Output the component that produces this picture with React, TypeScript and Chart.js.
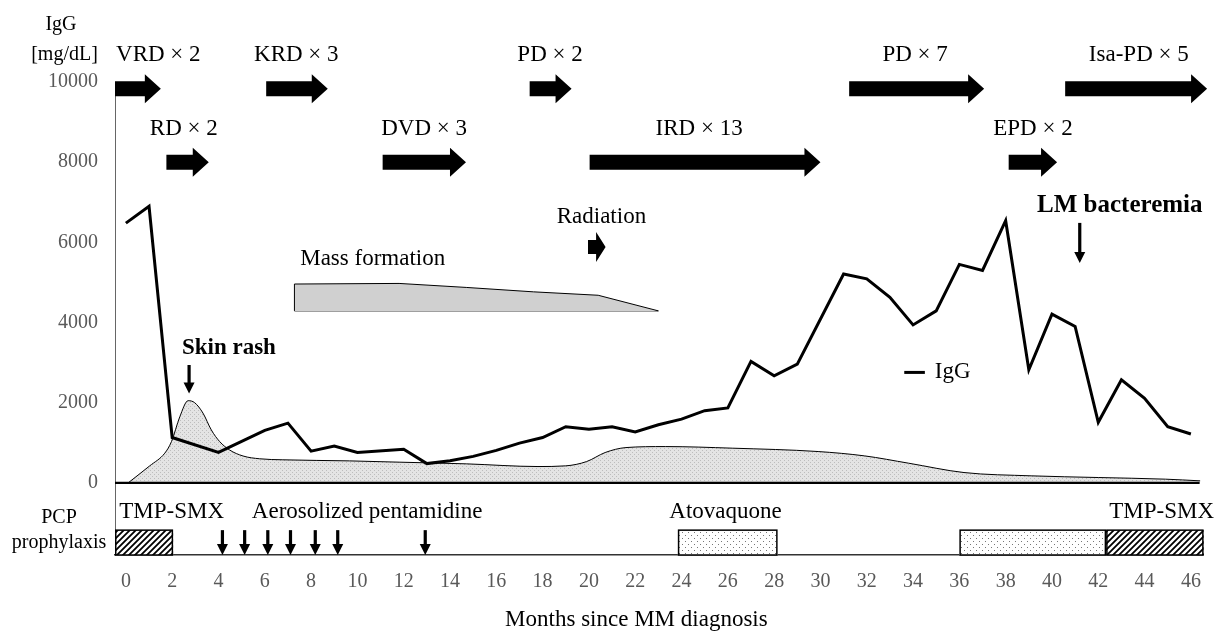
import React, { useEffect, useRef } from 'react';
import { Chart, registerables } from 'chart.js';

Chart.register(...registerables);

const FONT = "'Liberation Serif', 'Times New Roman', serif";

// ---- axis ranges / ticks ----
const xMin = -0.47;
const xMax = 46.55;
const yMin = -1800;
const yMax = 10000;
const xTicks = [0, 2, 4, 6, 8, 10, 12, 14, 16, 18, 20, 22, 24, 26, 28, 30, 32, 34, 36, 38, 40, 42, 44, 46];
const yTicks = [0, 2000, 4000, 6000, 8000, 10000];

// ---- IgG (mg/dL) ----
const igGMonths = [0, 1, 2, 4, 6, 7, 8, 9, 10, 12, 13, 14, 15, 16, 17, 18, 19, 20, 21, 22, 23, 24, 25, 26, 27, 28, 29, 31, 32, 33, 34, 35, 36, 37, 38, 39, 40, 41, 42, 43, 44, 45, 46];
const igGValues = [6480, 6900, 1130, 760, 1310, 1490, 790, 920, 760, 840, 480, 550, 660, 810, 990, 1130, 1400, 1340, 1400, 1270, 1450, 1590, 1800, 1870, 3030, 2670, 2960, 5210, 5090, 4630, 3940, 4290, 5450, 5300, 6540, 2820, 4210, 3900, 1510, 2570, 2110, 1400, 1220];

// ---- shaded curve ----
const shadeMonths = [0.1, 1.03, 1.68, 1.97, 2.33, 2.69, 2.97, 3.33, 3.69, 4.05, 4.48, 5.06, 5.78, 6.78, 9.66, 11.8, 14.7, 17.8, 19.0, 19.9, 20.7, 21.6, 23.3, 26.2, 29.9, 31.9, 33.8, 36.2, 39.1, 42.0, 44.9, 46.4];
const shadeValues = [0, 424, 740, 1030, 1650, 2050, 2000, 1740, 1320, 1030, 820, 670, 600, 575, 548, 516, 474, 407, 424, 531, 756, 880, 905, 865, 781, 673, 491, 257, 175, 133, 92, 50];

// ---- mass formation band ----
const massMonths = [7.28, 7.28, 11.8, 14.7, 17.6, 20.4, 23.0];
const massValues = [4290, 4960, 4975, 4875, 4765, 4680, 4290];
const massBase = 4290;

// ---- treatment regimens ----
const regimenLabels = ['VRD × 2', 'RD × 2', 'KRD × 3', 'DVD × 3', 'PD × 2', 'IRD × 13', 'PD × 7', 'EPD × 2', 'Isa-PD × 5'];
const regimenStart = [-0.47, 1.75, 6.06, 11.09, 17.44, 20.03, 31.24, 38.13, 40.57];
const regimenEnd = [1.51, 3.58, 8.72, 14.69, 19.25, 30.0, 37.07, 40.22, 46.7];
const regimenRow = [9830, 8000, 9830, 8000, 9830, 8000, 9830, 8000, 9830];
const regimenLabelAt = [1.4, 2.5, 7.36, 12.88, 18.32, 24.76, 34.09, 39.18, 43.75];

// ---- events ----
const eventLabels = ['Skin rash', 'LM bacteremia'];
const eventMonths = [2.73, 41.2];
const eventArrowTop = [2940, 6485];
const eventArrowTip = [2227, 5487];
const eventLabelAt = [4.45, 42.93];
const eventLabelValue = [3353, 6926];
const eventFontSize = [23, 25];

// ---- radiation / mass labels ----
const radiationStart = 19.96;
const radiationEnd = 20.72;
const radiationValue = 5886;
const radiationLabelAt = 20.54;
const radiationLabelValue = 6634;
const massLabelAt = 10.66;
const massLabelValue = 5597;

// ---- legend ----
const legendStart = 33.62;
const legendEnd = 34.51;
const legendTextAt = 34.94;
const legendValue = 2755;

// ---- PCP prophylaxis ----
const pcpDrugs = ['TMP-SMX', 'Atovaquone', 'Atovaquone', 'TMP-SMX'];
const pcpStart = [-0.47, 23.84, 36.0, 42.34];
const pcpEnd = [2.04, 28.15, 42.34, 46.55];
const pcpBoxTop = -1180;
const pentamidineMonths = [4.17, 5.13, 6.13, 7.11, 8.18, 9.15, 12.93];
const pcpTextLabels = ['TMP-SMX', 'Aerosolized pentamidine', 'Atovaquone', 'TMP-SMX'];
const pcpTextAt = [1.98, 10.42, 25.9, 44.74];
const pcpTextValue = -720;
const xTitleAt = 22.05;

function tile(w: number, h: number, draw: (g: CanvasRenderingContext2D) => void) {
  const c = document.createElement('canvas');
  c.width = w;
  c.height = h;
  const g = c.getContext('2d')!;
  draw(g);
  return c;
}

function blockArrow(ctx: CanvasRenderingContext2D, x0: number, x1: number, yc: number, shaft: number, head: number, headLen: number) {
  ctx.beginPath();
  ctx.moveTo(x0, yc - shaft / 2);
  ctx.lineTo(x1 - headLen, yc - shaft / 2);
  ctx.lineTo(x1 - headLen, yc - head / 2);
  ctx.lineTo(x1, yc);
  ctx.lineTo(x1 - headLen, yc + head / 2);
  ctx.lineTo(x1 - headLen, yc + shaft / 2);
  ctx.lineTo(x0, yc + shaft / 2);
  ctx.closePath();
  ctx.fill();
}

function downArrow(ctx: CanvasRenderingContext2D, x: number, y0: number, y1: number) {
  const headLen = 11;
  const headW = 11;
  ctx.fillRect(x - 1.6, y0, 3.2, y1 - y0 - headLen + 1);
  ctx.beginPath();
  ctx.moveTo(x - headW / 2, y1 - headLen);
  ctx.lineTo(x + headW / 2, y1 - headLen);
  ctx.lineTo(x, y1);
  ctx.closePath();
  ctx.fill();
}

function text(ctx: CanvasRenderingContext2D, s: string, x: number, y: number, size: number, bold = false, align: CanvasTextAlign = 'center') {
  ctx.font = `${bold ? 'bold ' : ''}${size}px ${FONT}`;
  ctx.textAlign = align;
  ctx.textBaseline = 'middle';
  ctx.fillStyle = '#000';
  ctx.fillText(s, x, y);
}

export default function App() {
  const ref = useRef<HTMLCanvasElement>(null);

  useEffect(() => {
    const canvas = ref.current!;
    const cx = canvas.getContext('2d')!;

    const stipple = cx.createPattern(
      tile(4, 4, (g) => {
        g.fillStyle = '#e4e4e4';
        g.fillRect(0, 0, 4, 4);
        g.fillStyle = '#bdbdbd';
        g.fillRect(0, 0, 1, 1);
        g.fillRect(2, 2, 1, 1);
      }),
      'repeat'
    )!;
    const dots = cx.createPattern(
      tile(6, 6, (g) => {
        g.fillStyle = '#fff';
        g.fillRect(0, 0, 6, 6);
        g.fillStyle = '#777';
        g.fillRect(1, 1, 1, 1);
        g.fillRect(4, 4, 1, 1);
      }),
      'repeat'
    )!;
    const hatch = cx.createPattern(
      tile(6, 6, (g) => {
        g.fillStyle = '#fff';
        g.fillRect(0, 0, 6, 6);
        g.strokeStyle = '#000';
        g.lineWidth = 1.8;
        g.beginPath();
        g.moveTo(0, 6);
        g.lineTo(6, 0);
        g.moveTo(-1, 1);
        g.lineTo(1, -1);
        g.moveTo(5, 7);
        g.lineTo(7, 5);
        g.stroke();
      }),
      'repeat'
    )!;

    const overlay = {
      id: 'overlay',
      afterDatasetsDraw(chart: any) {
        const { ctx, chartArea, scales } = chart;
        const y = scales.y;
        ctx.save();
        ctx.strokeStyle = '#000';
        ctx.lineWidth = 2.2;
        ctx.beginPath();
        ctx.moveTo(chartArea.left, y.getPixelForValue(0));
        ctx.lineTo(chartArea.right - 4, y.getPixelForValue(0));
        ctx.stroke();
        ctx.restore();
      },
      afterDraw(chart: any) {
        const { ctx, chartArea, scales } = chart;
        const x = scales.x;
        const y = scales.y;
        const px = (m: number) => x.getPixelForValue(m);
        const py = (v: number) => y.getPixelForValue(v);
        ctx.save();

        // axis caption (IgG [mg/dL])
        text(ctx, 'IgG', chartArea.left - 54, chartArea.top - 57, 20);
        text(ctx, '[mg/dL]', chartArea.left - 50.5, chartArea.top - 27, 20);

        // regimens
        regimenLabels.forEach((lab, i) => {
          const yc = py(regimenRow[i]);
          ctx.fillStyle = '#000';
          blockArrow(ctx, px(regimenStart[i]), px(regimenEnd[i]), yc, 15, 29, 16);
          text(ctx, lab, px(regimenLabelAt[i]), yc - 33.5, 23);
        });

        // mass formation label
        text(ctx, 'Mass formation', px(massLabelAt), py(massLabelValue), 23);

        // radiation
        text(ctx, 'Radiation', px(radiationLabelAt), py(radiationLabelValue), 23);
        ctx.fillStyle = '#000';
        blockArrow(ctx, px(radiationStart), px(radiationEnd), py(radiationValue), 14, 30, 9.5);

        // events
        eventLabels.forEach((lab, i) => {
          text(ctx, lab, px(eventLabelAt[i]), py(eventLabelValue[i]), eventFontSize[i], true);
          ctx.fillStyle = '#000';
          downArrow(ctx, px(eventMonths[i]), py(eventArrowTop[i]), py(eventArrowTip[i]));
        });

        // legend
        ctx.strokeStyle = '#000';
        ctx.lineWidth = 3;
        ctx.beginPath();
        ctx.moveTo(px(legendStart), py(legendValue));
        ctx.lineTo(px(legendEnd), py(legendValue));
        ctx.stroke();
        text(ctx, 'IgG', px(legendTextAt), py(legendValue), 23, false, 'left');

        // PCP prophylaxis boxes
        const bTop = py(pcpBoxTop);
        const bBot = py(yMin);
        pcpDrugs.forEach((d, i) => {
          const x0 = px(pcpStart[i]);
          const x1 = px(pcpEnd[i]);
          ctx.fillStyle = d === 'TMP-SMX' ? hatch : dots;
          ctx.fillRect(x0, bTop, x1 - x0, bBot - bTop);
          ctx.strokeStyle = '#000';
          ctx.lineWidth = 1.5;
          ctx.strokeRect(x0 + 0.75, bTop, x1 - x0 - 1.5, bBot - bTop);
        });
        ctx.fillStyle = '#000';
        pentamidineMonths.forEach((m) => downArrow(ctx, px(m), bTop, bBot));
        pcpTextLabels.forEach((lab, i) => text(ctx, lab, px(pcpTextAt[i]), py(pcpTextValue), 23));

        text(ctx, 'PCP', chartArea.left - 56, chartArea.bottom - 37, 20);
        text(ctx, 'prophylaxis', chartArea.left - 56, chartArea.bottom - 12, 20);

        // x axis title
        text(ctx, 'Months since MM diagnosis', px(xTitleAt), chartArea.bottom + 65, 23);
        ctx.restore();
      },
    };

    const chart = new Chart(canvas, {
      type: 'line',
      data: {
        datasets: [
          {
            label: 'IgG',
            data: igGMonths.map((m, i) => ({ x: m, y: igGValues[i] })),
            borderColor: '#000',
            borderWidth: 3,
            pointRadius: 0,
            tension: 0,
            fill: false,
            order: 0,
          },
          {
            label: 'Mass formation',
            data: massMonths.map((m, i) => ({ x: m, y: massValues[i] })),
            borderColor: '#000',
            borderWidth: 1,
            backgroundColor: '#d0d0d0',
            pointRadius: 0,
            tension: 0,
            fill: { value: massBase },
            order: 1,
          },
          {
            label: 'Mass base',
            data: [
              { x: massMonths[0], y: massBase },
              { x: massMonths[massMonths.length - 1], y: massBase },
            ],
            borderColor: '#000',
            borderWidth: 1,
            pointRadius: 0,
            fill: false,
            order: 1,
          },
          {
            label: 'shade',
            data: shadeMonths.map((m, i) => ({ x: m, y: shadeValues[i] })),
            borderColor: '#000',
            borderWidth: 1,
            backgroundColor: stipple,
            pointRadius: 0,
            cubicInterpolationMode: 'monotone',
            fill: 'origin',
            order: 2,
          },
        ],
      },
      options: {
        animation: false,
        responsive: true,
        maintainAspectRatio: false,
        layout: { padding: { top: 82, right: 10, left: 0, bottom: 0 } },
        plugins: {
          legend: { display: false },
          tooltip: { enabled: false },
          title: { display: false },
        },
        scales: {
          x: {
            type: 'linear',
            min: xMin,
            max: xMax,
            afterBuildTicks: (s: any) => {
              s.ticks = xTicks.map((v) => ({ value: v }));
            },
            afterFit: (s: any) => {
              s.height = 77;
            },
            grid: { display: false, drawTicks: false, tickLength: 0 },
            border: { display: true, color: '#333', width: 1.5 },
            ticks: {
              padding: 15,
              color: '#595959',
              font: { family: FONT, size: 20 },
              maxRotation: 0,
              autoSkip: false,
              callback: (v: any) => String(v),
            },
          },
          y: {
            type: 'linear',
            min: yMin,
            max: yMax,
            afterBuildTicks: (s: any) => {
              s.ticks = yTicks.map((v) => ({ value: v }));
            },
            afterFit: (s: any) => {
              s.width = 115;
            },
            grid: { display: false, drawTicks: false, tickLength: 0 },
            border: { display: true, color: '#666', width: 1 },
            ticks: {
              padding: 17,
              color: '#595959',
              font: { family: FONT, size: 20 },
              callback: (v: any) => String(v),
            },
          },
        },
      },
      plugins: [overlay],
    } as any);

    return () => chart.destroy();
  }, []);

  return (
    <div style={{ position: 'absolute', left: 0, top: 0, width: 1216, height: 632, background: '#fff' }}>
      <canvas ref={ref} />
    </div>
  );
}
